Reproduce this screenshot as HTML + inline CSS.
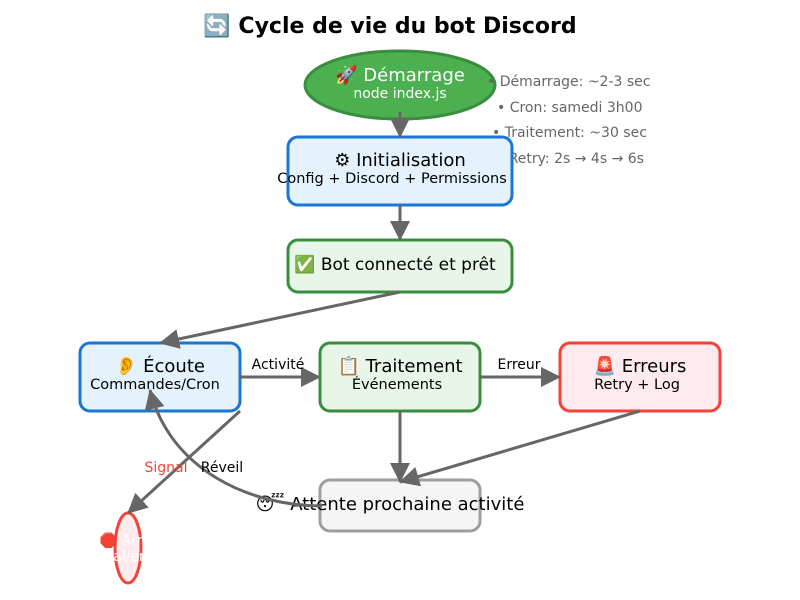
<!DOCTYPE html>
<html><head><meta charset="utf-8"><style>body{margin:0;background:#fff}svg{display:block}</style></head>
<body>
<svg width="800" height="600" viewBox="0 0 800 600" xmlns="http://www.w3.org/2000/svg" font-family="DejaVu Sans, Liberation Sans, sans-serif">
<defs>
<marker id="b" markerWidth="20" markerHeight="20" refX="19" refY="10" orient="auto" markerUnits="userSpaceOnUse"><path d="M0,0L20,10L0,20z" fill="#666"/></marker></defs>
<rect width="800" height="600" fill="#fff"/>
<text x="390" y="33" text-anchor="middle" font-size="22" font-weight="bold">🔄 Cycle de vie du bot Discord</text>
<ellipse cx="400" cy="85" rx="95" ry="34" fill="#4caf50" stroke="#388e3c" stroke-width="3"/>
<text x="400" y="81" text-anchor="middle" font-size="18" fill="#fff">🚀 Démarrage</text>
<text x="400" y="98" text-anchor="middle" font-size="14" fill="#fff">node index.js</text>
<g font-size="14" fill="#666">
<text x="487" y="86">• Démarrage: ~2-3 sec</text>
<text x="497" y="112">• Cron: samedi 3h00</text>
<text x="492" y="137">• Traitement: ~30 sec</text>
<text x="496" y="163">• Retry: 2s → 4s → 6s</text>
</g>
<rect x="288" y="137" width="224" height="68" rx="10" fill="#e3f2fd" stroke="#1976d2" stroke-width="3"/>
<text x="400" y="166" text-anchor="middle" font-size="18">⚙ Initialisation</text>
<text x="392" y="183" text-anchor="middle" font-size="14.5">Config + Discord + Permissions</text>
<rect x="288" y="240" width="224" height="52" rx="10" fill="#e8f5e9" stroke="#388e3c" stroke-width="3"/>
<text x="395" y="270" text-anchor="middle" font-size="17">✅ Bot connecté et prêt</text>
<rect x="80" y="343" width="160" height="68" rx="10" fill="#e3f2fd" stroke="#1976d2" stroke-width="3"/>
<text x="160" y="372" text-anchor="middle" font-size="18">👂 Écoute</text>
<text x="155" y="389" text-anchor="middle" font-size="14.5">Commandes/Cron</text>
<rect x="320" y="343" width="160" height="68" rx="10" fill="#e8f5e9" stroke="#388e3c" stroke-width="3"/>
<text x="400" y="372" text-anchor="middle" font-size="18">📋 Traitement</text>
<text x="397" y="389" text-anchor="middle" font-size="14.5">Événements</text>
<rect x="560" y="343" width="160" height="68" rx="10" fill="#ffebee" stroke="#f44336" stroke-width="3"/>
<text x="640" y="372" text-anchor="middle" font-size="18">🚨 Erreurs</text>
<text x="637" y="389" text-anchor="middle" font-size="14.5">Retry + Log</text>
<rect x="320" y="480" width="160" height="51" rx="10" fill="#f5f5f5" stroke="#9e9e9e" stroke-width="3"/>
<text x="390" y="510" text-anchor="middle" font-size="18">😴 Attente prochaine activité</text>
<ellipse cx="128" cy="548" rx="13" ry="35" fill="#ffebee" stroke="#f44336" stroke-width="3"/>
<text x="128" y="545" text-anchor="middle" font-size="14" fill="#fff">🛑 Arrêt</text>
<text x="128" y="561" text-anchor="middle" font-size="14" fill="#fff">Signal/erreur</text>
<g stroke="#666" stroke-width="3" fill="none">
<line x1="400" y1="112" x2="400" y2="137" marker-end="url(#b)"/>
<line x1="400" y1="205" x2="400" y2="240" marker-end="url(#b)"/>
<line x1="400" y1="292" x2="160" y2="343" marker-end="url(#b)"/>
<line x1="240" y1="377" x2="320" y2="377" marker-end="url(#b)"/>
<line x1="480" y1="377" x2="560" y2="377" marker-end="url(#b)"/>
<line x1="400" y1="411" x2="400" y2="482" marker-end="url(#b)"/>
<line x1="640" y1="411" x2="400" y2="482" marker-end="url(#b)"/>
<line x1="240" y1="411" x2="128" y2="513" marker-end="url(#b)"/>
<path d="M322,506 C250,506 170,470 150,390" marker-end="url(#b)"/>
</g>
<text x="278" y="369" text-anchor="middle" font-size="14">Activité</text>
<text x="519" y="369" text-anchor="middle" font-size="14">Erreur</text>
<text x="166" y="472" text-anchor="middle" font-size="14" fill="#f44336">Signal</text>
<text x="222" y="472" text-anchor="middle" font-size="14">Réveil</text>
</svg>
</body></html>
